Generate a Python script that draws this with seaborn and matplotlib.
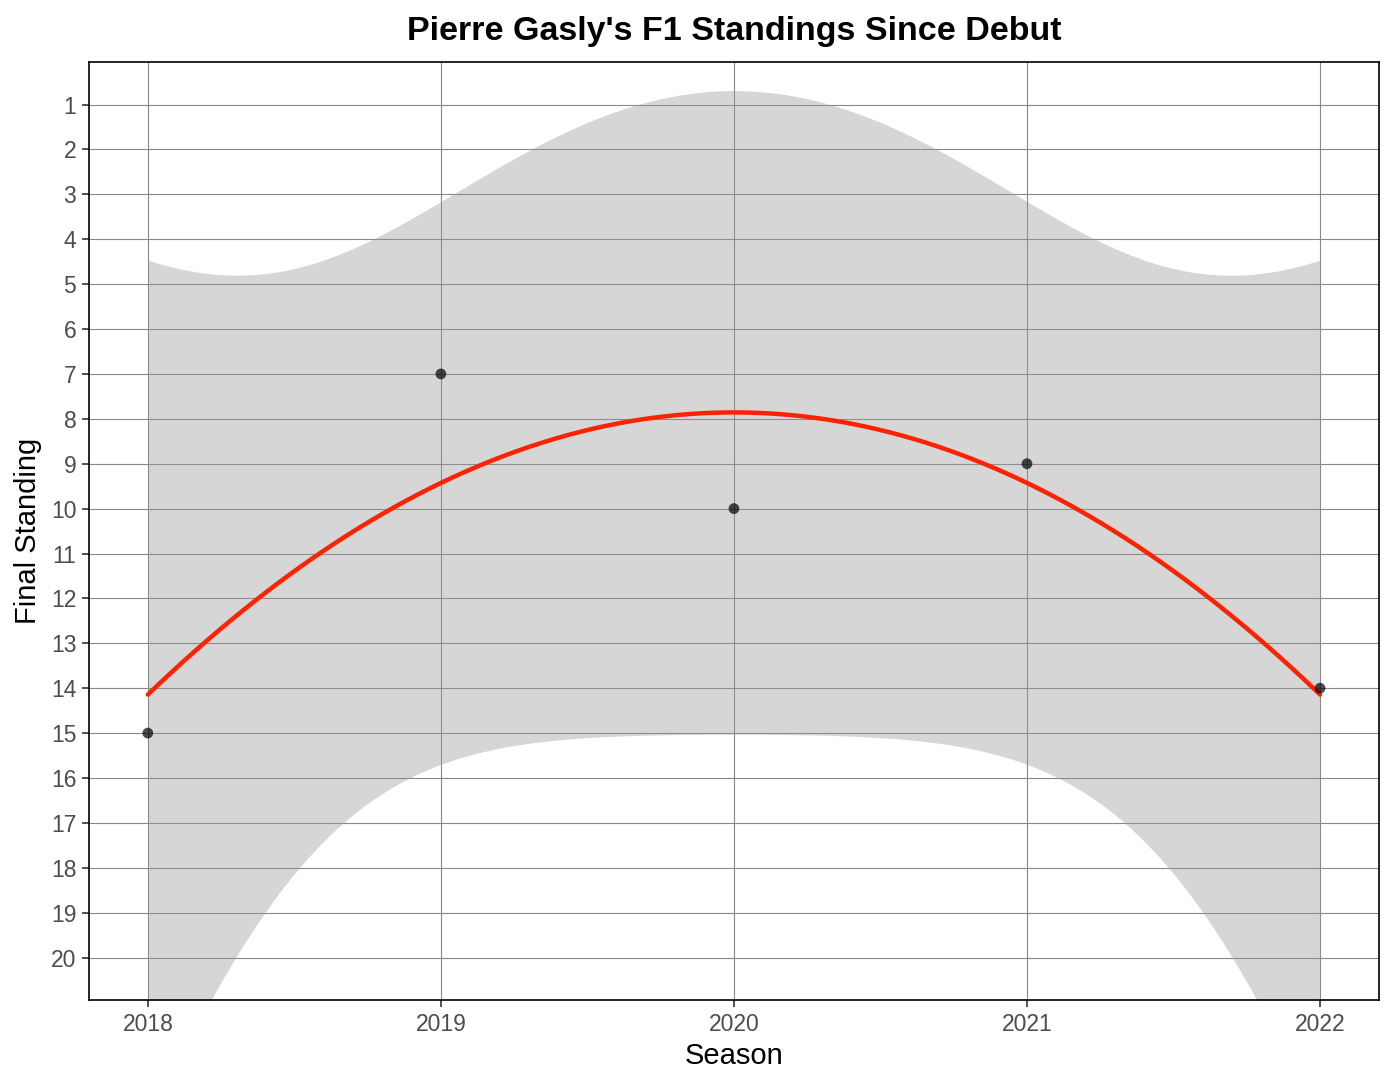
import numpy as np
import pandas as pd
import matplotlib
matplotlib.use("Agg")
import matplotlib.pyplot as plt
import seaborn as sns

# Data
seasons = [2018, 2019, 2020, 2021, 2022]
standings = [15, 7, 10, 9, 14]
y_ticks = list(range(1, 21))

df = pd.DataFrame({"Season": seasons, "Final Standing": standings})

# Quadratic lm fit with 95% confidence band (like geom_smooth(method="lm", formula=y~poly(x,2)))
x = np.array(seasons, dtype=float)
y = np.array(standings, dtype=float)
xc = x - x.mean()
X = np.column_stack([np.ones_like(xc), xc, xc ** 2])
beta, *_ = np.linalg.lstsq(X, y, rcond=None)
resid = y - X @ beta
dof = len(y) - X.shape[1]
sigma2 = resid @ resid / dof
xtx_inv = np.linalg.inv(X.T @ X)
t_crit = 4.302653  # t(0.975, df=2)

grid_x = np.linspace(x.min(), x.max(), 200)
gc = grid_x - x.mean()
G = np.column_stack([np.ones_like(gc), gc, gc ** 2])
fit = G @ beta
se = np.sqrt(np.einsum("ij,jk,ik->i", G, xtx_inv, G) * sigma2)
fit_df = pd.DataFrame({"Season": grid_x, "fit": fit,
                       "lo": fit - t_crit * se, "hi": fit + t_crit * se})

sns.set_style("white")
plt.rcParams["font.family"] = ["Liberation Sans", "DejaVu Sans"]

fig, ax = plt.subplots(figsize=(13.94, 10.86), dpi=100)
fig.subplots_adjust(left=0.064, right=0.989, top=0.943, bottom=0.079)

ax.fill_between(fit_df["Season"], fit_df["lo"], fit_df["hi"],
                color="#999999", alpha=0.4, linewidth=0, zorder=1)
sns.lineplot(data=fit_df, x="Season", y="fit", color="#FF2200", linewidth=3.2,
             ax=ax, zorder=3)
sns.scatterplot(data=df, x="Season", y="Final Standing", color="black", alpha=0.7,
                s=60, edgecolor="none", ax=ax, zorder=4)

ax.set_xlim(2017.8, 2022.2)
ax.set_ylim(20.95, 0.05)
ax.set_xticks(seasons)
ax.set_yticks(y_ticks)
ax.grid(True, color="#888888", linewidth=0.8, zorder=0)
ax.set_axisbelow(True)
for s in ax.spines.values():
    s.set_color("black")
    s.set_linewidth(1.2)
ax.tick_params(axis="both", which="major", length=5.3, width=1.2, color="#333333",
               labelsize=16.5, labelcolor="#4D4D4D", direction="out", pad=4,
               bottom=True, left=True)

ax.set_xlabel("Season", fontsize=21, labelpad=4, color="black")
ax.set_ylabel("Final Standing", fontsize=21, labelpad=6, color="black")
ax.set_title("Pierre Gasly's F1 Standings Since Debut", fontsize=24.5,
             fontweight="bold", pad=16, color="black")

plt.savefig("out.png", dpi=100)
plt.close()
